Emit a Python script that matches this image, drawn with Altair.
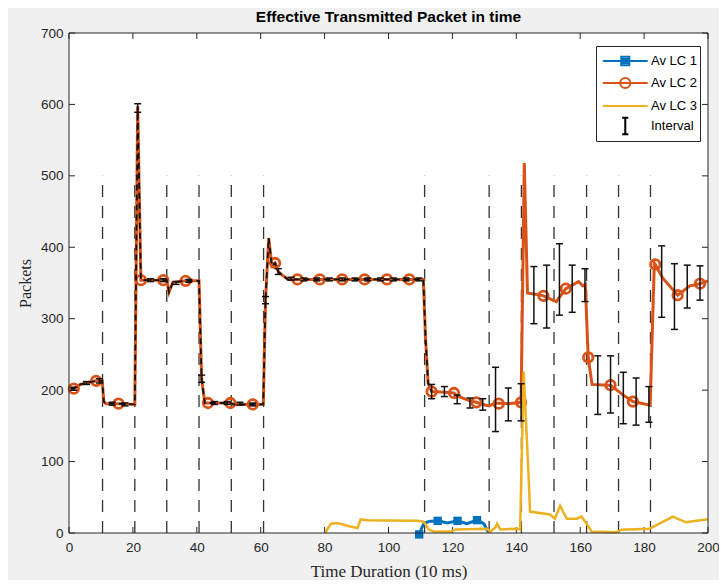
import altair as alt
import pandas as pd

SERIES = ["Av LC 1", "Av LC 2", "Av LC 3", "Interval"]
COLORS = ["#0072BD", "#D95319", "#EDB120", "#000000"]

# Av LC 2 (orange) line vertices
lc2_x = [0.5, 1.5, 3.5, 5.5, 8.5, 10.4, 10.9, 11.6, 15.5, 20.6, 21.5, 22.5, 30.6, 31.3, 32.5, 36.5,
         40.7, 41.5, 42.5, 50.5, 51.5, 60.8, 61.5, 62.5, 63.5, 64.5, 65.5, 66.5, 68.5, 110.9,
         111.6, 112.4, 113.5, 117.5, 120.5, 121.5, 125.5, 127.5, 129.5, 131.5, 133.5, 137.5, 141.5,
         142.5, 143.5, 147.5, 148.5, 152.5, 155.5, 159.5, 160.8, 161.6, 162.5, 163.7, 168.5, 169.5,
         173.5, 176.5, 181.9, 183.2, 183.5, 185.8, 190.5, 194.3, 197.5, 200.0]
lc2_y = [202, 202, 208, 210, 213, 213, 184, 181, 181, 180, 597, 354, 354, 337, 351, 353,
         353, 216, 182, 182, 180, 180, 325, 413, 374, 378, 366, 362, 355, 355,
         272, 210, 198, 197, 196, 192, 185, 183, 180, 178, 182, 181, 183,
         518, 336, 333, 332, 324, 342, 352, 346, 348, 246, 208, 207, 207,
         193, 184, 179, 378, 376, 357, 333, 346, 349, 353]
# Av LC 2 circle markers
lc2_mx = [1.5, 8.5, 15.5, 22.5, 29.5, 36.5, 43.5, 50.5, 57.5, 64.5, 71.5, 78.5, 85.5, 92.5, 99.5,
          106.5, 113.5, 120.5, 127.5, 134.5, 141.5, 148.5, 155.5, 162.5, 169.5, 176.5, 183.5, 190.5, 197.5]
lc2_my = [202, 213, 181, 354, 354, 353, 182, 182, 180, 378, 355, 355, 355, 355, 355,
          355, 198, 196, 183, 181, 183, 332, 342, 246, 207, 184, 376, 333, 349]

# Av LC 1 (blue)
lc1_x = [109.6, 110.5, 111.1, 112.6, 115.4, 118.5, 121.6, 124.5, 127.7, 129.8, 131.3]
lc1_y = [-2, 8, 13.5, 16, 17, 14, 17, 13, 18, 13, 1]
lc1_mx = [109.6, 115.4, 121.6, 127.7]
lc1_my = [-2, 17, 17, 18]

# Av LC 3 (yellow)
lc3_x = [80.3, 80.8, 82.0, 84.0, 88.0, 90.3, 91.3, 93.5, 100.0, 109.0, 111.0, 112.6, 114.2, 119.4,
         121.0, 130.8, 131.9, 133.5, 134.0, 135.0, 140.2, 141.2, 142.3, 143.8, 144.3, 150.5, 152.1,
         153.7, 155.8, 158.9, 160.4, 162.0, 163.6, 171.3, 172.9, 181.7, 184.8, 189.0, 193.1, 199.4, 200.0]
lc3_y = [0, 5, 13, 14, 9, 7, 19, 18, 17.5, 17, 16, 5, 2, 2,
         5, 6, 2, 8, 13, 5, 6, 5, 226, 84, 30, 26, 20,
         38, 20, 20, 23, 13, 2, 1, 4.7, 6, 13, 23, 15, 19, 19]

# Interval (error bars)
int_x = [1.5, 5.5, 9.5, 13.5, 17.5, 21.5, 25.5, 29.5, 33.5, 37.5, 41.5, 45.5, 49.5, 53.5, 57.5,
         61.5, 65.5, 69.5, 73.5, 77.5, 81.5, 85.5, 89.5, 93.5, 97.5, 101.5, 105.5, 109.5,
         113.5, 117.5, 121.5, 125.5, 129.5, 133.5, 137.5, 141.5, 145.5, 149.5, 153.5, 157.5,
         161.5, 165.5, 169.5, 173.5, 177.5, 181.5, 185.5, 189.5, 193.5, 197.5]
int_mean = [202, 210, 213, 181, 180, 595, 354, 354, 350, 353, 216, 182, 182, 181, 180,
            326, 366, 356, 355, 355, 355, 355, 355, 355, 355, 355, 355, 355,
            198, 198, 187, 182, 180, 187, 180, 183, 333, 331, 355, 342,
            347, 207, 208, 189, 184, 180, 352, 331, 345, 350]
int_err = [2, 2, 3, 2, 2, 6, 2, 2, 2, 2, 5, 2, 2, 2, 2,
           5, 4, 2, 2, 2, 2, 2, 2, 2, 2, 2, 2, 2,
           10, 7, 6, 7, 8, 45, 23, 26, 40, 44, 50, 33,
           23, 41, 40, 36, 33, 25, 50, 46, 30, 24]

# dashed vertical markers
vline_x = [10.5, 20.6, 30.6, 40.7, 50.8, 60.9, 111.3, 131.5, 141.6, 151.8, 162.0, 172.0, 182.0]
vline_top = 500

x_ticks = [0, 20, 40, 60, 80, 100, 120, 140, 160, 180, 200]
y_ticks = [0, 100, 200, 300, 400, 500, 600, 700]

W, H = 639, 500
AX = "#262626"

xs = alt.Scale(domain=[0, 200], nice=False, zero=False)
ys = alt.Scale(domain=[0, 700], nice=False, zero=False)

x_axis = alt.Axis(values=x_ticks, grid=False, domain=False, ticks=False, tickSize=0, labelPadding=7,
                  labelFontSize=13.5, labelFont="Liberation Sans", labelColor=AX, labelFlush=False,
                  title="Time Duration (10 ms)", titleFont="Liberation Serif", titleFontSize=17,
                  titleFontWeight="normal", titleColor=AX, titleX=W / 2, titleY=38,
                  titleBaseline="middle", titleAlign="center")
y_axis = alt.Axis(values=y_ticks, grid=False, domain=False, ticks=False, tickSize=0, labelPadding=6,
                  labelFontSize=13.5, labelFont="Liberation Sans", labelColor=AX, labelFlush=False,
                  title="Packets", titleFont="Liberation Serif", titleFontSize=16,
                  titleFontWeight="normal", titleColor=AX, titleX=-44, titleY=H / 2, titleAngle=270,
                  titleBaseline="middle", titleAlign="center")


def X(f):
    return alt.X(f, type="quantitative", scale=xs, axis=x_axis)


def Y(f):
    return alt.Y(f, type="quantitative", scale=ys, axis=y_axis)


df_lc2 = pd.DataFrame({"x": lc2_x, "y": lc2_y})
df_lc2m = pd.DataFrame({"x": lc2_mx, "y": lc2_my})
df_lc1 = pd.DataFrame({"x": lc1_x, "y": lc1_y})
df_lc1m = pd.DataFrame({"x": lc1_mx, "y": lc1_my})
df_lc3 = pd.DataFrame({"x": lc3_x, "y": lc3_y})
df_int = pd.DataFrame({"x": int_x, "m": int_mean, "e": int_err})
df_v = pd.DataFrame({"x": vline_x, "y": [0] * len(vline_x), "y2": [vline_top] * len(vline_x)})
df_xt = pd.DataFrame({"x": x_ticks})
df_yt = pd.DataFrame({"y": y_ticks})
df_one = pd.DataFrame({"k": [0]})

plot_bg = alt.Chart(df_one).mark_rect(fill="white", stroke=None).encode(
    x=alt.value(0), x2=alt.value(W), y=alt.value(0), y2=alt.value(H))
plot_frame = alt.Chart(df_one).mark_rect(fill=None, stroke=AX, strokeWidth=1).encode(
    x=alt.value(0), x2=alt.value(W), y=alt.value(0), y2=alt.value(H))

vlines = alt.Chart(df_v).mark_rule(color="#333333", strokeWidth=1.3, strokeDash=[12, 9]).encode(
    x=X("x"), y=Y("y"), y2="y2")

tick_b = alt.Chart(df_xt).mark_rule(color=AX, strokeWidth=1).encode(
    x=X("x"), y=alt.value(H), y2=alt.value(H - 6))
tick_t = alt.Chart(df_xt).mark_rule(color=AX, strokeWidth=1).encode(
    x=X("x"), y=alt.value(0), y2=alt.value(6))
tick_l = alt.Chart(df_yt).mark_rule(color=AX, strokeWidth=1).encode(
    y=Y("y"), x=alt.value(0), x2=alt.value(6))
tick_r = alt.Chart(df_yt).mark_rule(color=AX, strokeWidth=1).encode(
    y=Y("y"), x=alt.value(W), x2=alt.value(W - 6))

blue_line = alt.Chart(df_lc1).mark_line(color=COLORS[0], strokeWidth=3).encode(
    x=X("x"), y=Y("y"), order="x:Q")
blue_pts = alt.Chart(df_lc1m).mark_point(shape="square", filled=True, size=70, opacity=1,
                                          color=COLORS[0]).encode(x=X("x"), y=Y("y"))

orange_line = alt.Chart(df_lc2).mark_line(color=COLORS[1], strokeWidth=3).encode(
    x=X("x"), y=Y("y"), order="x:Q")
orange_pts = alt.Chart(df_lc2m).mark_point(shape="circle", filled=False, size=90, strokeWidth=2.8,
                                            opacity=1, color=COLORS[1]).encode(x=X("x"), y=Y("y"))

yellow_line = alt.Chart(df_lc3).mark_line(color=COLORS[2], strokeWidth=2.5).encode(
    x=X("x"), y=Y("y"), order="x:Q")

black_dash = alt.Chart(df_lc2).transform_filter("datum.x <= 113.5").mark_line(
    color="#111111", strokeWidth=1.8, strokeDash=[6, 4]).encode(x=X("x"), y=Y("y"), order="x:Q")

err_base = alt.Chart(df_int).transform_calculate(lo="datum.m - datum.e", hi="datum.m + datum.e")
err_rule = err_base.mark_rule(color="#111111", strokeWidth=1.5).encode(x=X("x"), y=Y("lo:Q"), y2="hi:Q")
err_lo = err_base.mark_tick(orient="horizontal", size=7, thickness=1.5, color="#111111", opacity=1).encode(
    x=X("x"), y=Y("lo:Q"))
err_hi = err_base.mark_tick(orient="horizontal", size=7, thickness=1.5, color="#111111", opacity=1).encode(
    x=X("x"), y=Y("hi:Q"))

# legend symbols (unit = sqrt(symbolSize)/2 px)
LINE = "M-0.71,0H3.19"
PATHS = [
    LINE + "M0.89,-0.36H1.59V0.36H0.89ZM1.06,-0.18H1.42V0.18H1.06Z",
    LINE + "M1.68,0A0.44,0.44 0 1 1 0.8,0A0.44,0.44 0 1 1 1.68,0",
    LINE,
    "M1.24,-0.72V0.72M0.97,-0.72H1.51M0.97,0.72H1.51",
]

LEG = alt.Legend(title=None, orient="none", legendX=527, legendY=13, padding=2, symbolSize=530,
                 symbolStrokeWidth=2, labelOffset=27, labelFontSize=13, labelFont="Liberation Sans",
                 labelColor="black", strokeColor=AX, fillColor="white", rowPadding=0)

legend_layer = alt.Chart(pd.DataFrame({"series": SERIES})).transform_filter("false").mark_point(
    filled=False, strokeWidth=2, opacity=1).encode(
    color=alt.Color("series:N", scale=alt.Scale(domain=SERIES, range=COLORS), legend=LEG, sort=SERIES),
    shape=alt.Shape("series:N", scale=alt.Scale(domain=SERIES, range=PATHS), legend=LEG, sort=SERIES),
)

chart = alt.layer(
    plot_bg, vlines, tick_b, tick_t, tick_l, tick_r,
    blue_line, blue_pts, orange_line, orange_pts, yellow_line,
    black_dash, err_rule, err_lo, err_hi, plot_frame, legend_layer,
).properties(
    width=W, height=H,
    title=alt.TitleParams(text="Effective Transmitted Packet in time", fontSize=15.5, font="Liberation Sans",
                          fontWeight="bold", color="black", offset=1, anchor="middle"),
    padding={"left": 61, "top": 25, "right": 11, "bottom": 47},
    autosize=alt.AutoSizeParams(type="none"),
).configure(background="#f0f0f0").configure_view(stroke=None)

chart.save("out.html", embed_options={"renderer": "svg", "actions": False})
